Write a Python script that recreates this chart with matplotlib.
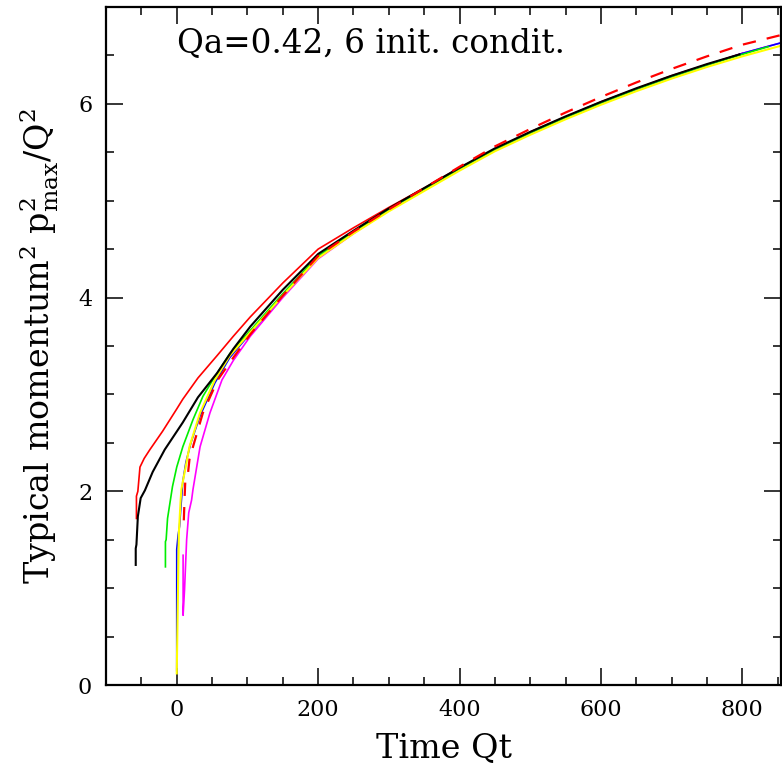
import matplotlib
matplotlib.use("Agg")
import matplotlib.pyplot as plt
from matplotlib.ticker import MultipleLocator

plt.rcParams['font.family'] = 'DejaVu Serif'
plt.rcParams['mathtext.fontset'] = 'dejavuserif'

# curves: time Qt and p^2_max/Q^2
red_t = [-57, -57, -55, -52, -46, -38, -20, 0, 8.5, 30, 57, 80, 104, 150, 200, 250, 300, 350, 400, 500, 600, 700, 800]
red_y = [1.72, 1.95, 2.00, 2.25, 2.34, 2.43, 2.62, 2.85, 2.95, 3.17, 3.40, 3.60, 3.80, 4.15, 4.50, 4.72, 4.93, 5.13, 5.34, 5.71, 6.02, 6.29, 6.52]

black_t = [-58, -58, -57, -55, -51, -45, -34, -17, 8.5, 30, 57, 80, 104, 150, 200, 250, 300, 350, 400, 450, 500, 550, 600, 650, 700, 750, 796]
black_y = [1.24, 1.41, 1.45, 1.74, 1.93, 2.01, 2.20, 2.43, 2.71, 2.97, 3.22, 3.47, 3.70, 4.08, 4.45, 4.69, 4.92, 5.13, 5.34, 5.54, 5.71, 5.87, 6.02, 6.16, 6.29, 6.41, 6.51]

green_t = [-16, -16, -15, -13, -6, 0, 8.6, 23, 37, 51, 75, 104, 150, 200, 250, 300, 350, 400, 450, 500, 550, 600, 650, 700, 750, 800, 837]
green_y = [1.22, 1.48, 1.50, 1.72, 2.05, 2.25, 2.46, 2.74, 2.98, 3.15, 3.42, 3.66, 4.04, 4.43, 4.68, 4.91, 5.12, 5.33, 5.53, 5.70, 5.86, 6.01, 6.15, 6.28, 6.40, 6.51, 6.59]

yellow_t = [0, 1, 2, 3, 5.5, 6.6, 18, 33, 54, 75, 104, 150, 200, 250, 300, 350, 400, 450, 500, 550, 600, 650, 700, 750, 800, 855]
yellow_y = [0.12, 0.60, 1.10, 1.57, 1.91, 2.02, 2.46, 2.81, 3.15, 3.40, 3.64, 4.02, 4.41, 4.66, 4.89, 5.10, 5.31, 5.51, 5.68, 5.84, 5.99, 6.13, 6.26, 6.38, 6.49, 6.60]

blue_t = [0, 0, 2, 4, 6, 8.6, 13, 20, 33, 54, 75, 104, 150, 200, 250, 300, 350, 400, 450, 500, 550, 600, 650, 700, 750, 800, 855]
blue_y = [0.15, 1.40, 1.55, 1.64, 1.85, 2.10, 2.30, 2.50, 2.78, 3.12, 3.38, 3.63, 4.02, 4.42, 4.67, 4.91, 5.12, 5.33, 5.53, 5.70, 5.86, 6.01, 6.15, 6.28, 6.40, 6.52, 6.63]

magenta_t = [9, 9, 11, 14, 17, 21, 23, 33, 47, 64, 80, 104, 150, 200, 250, 300, 350, 400, 450, 500, 550, 600, 650, 700, 750, 800, 855]
magenta_y = [1.34, 0.72, 0.98, 1.50, 1.78, 1.91, 2.02, 2.46, 2.81, 3.15, 3.35, 3.60, 4.00, 4.40, 4.66, 4.90, 5.12, 5.33, 5.53, 5.70, 5.86, 6.01, 6.15, 6.28, 6.40, 6.52, 6.63]

dash_t = [10, 11, 12, 16, 18, 23, 37, 58, 80, 104, 150, 200, 250, 300, 350, 400, 450, 500, 550, 600, 650, 700, 750, 800, 855]
dash_y = [1.70, 1.91, 2.09, 2.19, 2.33, 2.46, 2.81, 3.15, 3.38, 3.62, 4.02, 4.43, 4.68, 4.91, 5.13, 5.35, 5.56, 5.74, 5.91, 6.07, 6.22, 6.36, 6.49, 6.61, 6.71]

fig = plt.figure(figsize=(7.82, 7.68), dpi=100)
ax = fig.add_axes([0.1356, 0.108, 0.8634, 0.883])

ax.plot(red_t, red_y, color="red", lw=1.2)
ax.plot(magenta_t, magenta_y, color="magenta", lw=1.2)
ax.plot(blue_t, blue_y, color="blue", lw=1.2)
ax.plot(green_t, green_y, color="#00ee00", lw=1.2)
ax.plot(yellow_t, yellow_y, color="yellow", lw=1.5)
ax.plot(black_t, black_y, color="black", lw=1.5)
ax.plot(dash_t, dash_y, color="red", lw=1.6, ls=(0, (6, 5)))

ax.set_xlim(-100, 855)
ax.set_ylim(0, 7)
ax.xaxis.set_major_locator(MultipleLocator(200))
ax.xaxis.set_minor_locator(MultipleLocator(50))
ax.yaxis.set_major_locator(MultipleLocator(2))
ax.yaxis.set_minor_locator(MultipleLocator(0.5))
ax.tick_params(which="both", direction="in", top=True, right=True, width=1.1, labelsize=16)
ax.tick_params(which="major", length=12, pad=10)
ax.tick_params(which="minor", length=5.5)
for s in ax.spines.values():
    s.set_linewidth(1.6)

ax.set_xlabel("Time Qt", fontsize=24, labelpad=8)
ax.set_ylabel(r"Typical momentum$^2$ p$^2_{\rm max}$/Q$^2$", fontsize=24, labelpad=12)
ax.text(0.105, 0.947, "Qa=0.42, 6 init. condit.", transform=ax.transAxes, fontsize=23.5, va="center")

fig.savefig("out.png", dpi=100)
